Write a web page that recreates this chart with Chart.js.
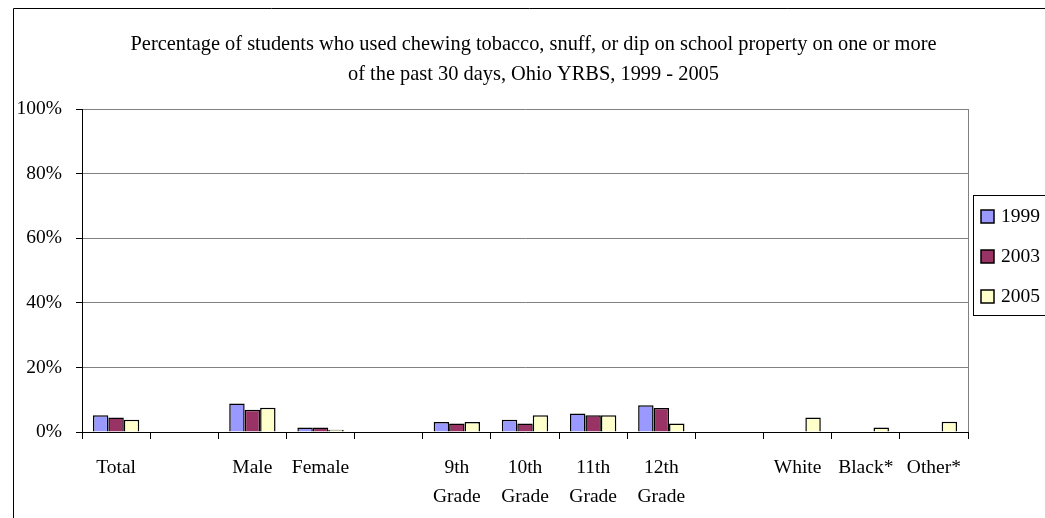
<!DOCTYPE html>
<html>
<head>
<meta charset="utf-8">
<script src="https://cdn.jsdelivr.net/npm/chart.js@4"></script>
<style>
html,body{margin:0;padding:0;background:#fff;}
canvas{display:block;}
</style>
</head>
<body>
<canvas id="c" width="1045" height="518"></canvas>
<script>
const categories = [["Total"], "", ["Male"], ["Female"], "", ["9th","Grade"], ["10th","Grade"], ["11th","Grade"], ["12th","Grade"], "", ["White"], ["Black*"], ["Other*"]];
const seriesNames = ["1999", "2003", "2005"];
const values1999 = [5.2, null, 8.8, 1.4, null, 3.1, 3.8, 5.7, 8.3, null, null, null, null];
const values2003 = [4.5, null, 6.9, 1.4, null, 2.6, 2.6, 5.2, 7.4, null, null, null, null];
const values2005 = [3.8, null, 7.5, 0.7, null, 3.1, 5.2, 5.2, 2.6, null, 4.5, 1.4, 3.2];
const yTicks = [0, 20, 40, 60, 80, 100];
const titleLines = ["Percentage of students who used chewing tobacco, snuff, or dip on school property on one or more", "of the past 30 days, Ohio YRBS, 1999 - 2005"];
const colors = ["#9999FF", "#993366", "#FFFFCC"];

const FONT = "'Liberation Serif', 'Times New Roman', serif";

const decor = {
  id: 'decor',
  afterDraw(chart) {
    const ctx = chart.ctx;
    const a = chart.chartArea;
    ctx.save();
    // outer frame
    ctx.strokeStyle = '#000';
    ctx.lineWidth = 1;
    ctx.beginPath();
    ctx.moveTo(13.5, 518);
    ctx.lineTo(13.5, 8.5);
    ctx.lineTo(1045, 8.5);
    ctx.stroke();
    // plot right border
    ctx.strokeStyle = '#808080';
    ctx.beginPath();
    ctx.moveTo(Math.round(a.right) + 0.5, a.top);
    ctx.lineTo(Math.round(a.right) + 0.5, a.bottom);
    ctx.stroke();
    // title
    ctx.fillStyle = '#000';
    ctx.font = "20.4px " + FONT;
    ctx.textAlign = 'center';
    ctx.textBaseline = 'middle';
    ctx.fillText(titleLines[0], 533.5, 45);
    ctx.fillText(titleLines[1], 533.5, 75);
    // legend
    ctx.strokeStyle = '#000';
    ctx.lineWidth = 1;
    ctx.strokeRect(973.5, 195.5, 100, 120);
    chart.data.datasets.forEach((ds, i) => {
      const cy = 217 + i * 40;
      ctx.fillStyle = ds.backgroundColor;
      ctx.fillRect(981, cy - 7, 13, 13);
      ctx.lineWidth = 1.5;
      ctx.strokeRect(981, cy - 7, 13, 13);
      ctx.fillStyle = '#000';
      ctx.font = "19.5px " + FONT;
      ctx.textAlign = 'left';
      ctx.fillText(ds.label, 1001, cy);
    });
    ctx.restore();
  }
};

new Chart(document.getElementById('c'), {
  type: 'bar',
  data: {
    labels: categories,
    datasets: [values1999, values2003, values2005].map((v, i) => ({
      label: seriesNames[i],
      data: v,
      backgroundColor: colors[i],
      borderColor: '#000',
      borderWidth: 1.5,
      categoryPercentage: 0.68,
      barPercentage: 1.0
    }))
  },
  options: {
    responsive: false,
    animation: false,
    layout: { padding: { top: 109, right: 77, left: 0, bottom: 0 } },
    plugins: {
      legend: { display: false },
      title: { display: false },
      tooltip: { enabled: false }
    },
    scales: {
      x: {
        afterFit(s) { s.height = 86; },
        grid: { display: true, drawOnChartArea: false, drawTicks: true, tickLength: 7, color: '#000', offset: true },
        border: { display: true, color: '#000', width: 1 },
        ticks: {
          color: '#000', font: { family: FONT, size: 19.5, lineHeight: 1.5 },
          maxRotation: 0, minRotation: 0, autoSkip: false, padding: 14
        }
      },
      y: {
        min: 0, max: 100,
        afterFit(s) { s.width = 82; },
        afterBuildTicks(s) { s.ticks = yTicks.map(v => ({ value: v })); },
        grid: { color: '#808080', tickColor: '#000', tickLength: 6, lineWidth: 1 },
        border: { display: true, color: '#000', width: 1 },
        ticks: {
          color: '#000', font: { family: FONT, size: 19.5 }, padding: 14,
          callback: v => v + '%'
        }
      }
    }
  },
  plugins: [decor]
});
</script>
</body>
</html>
